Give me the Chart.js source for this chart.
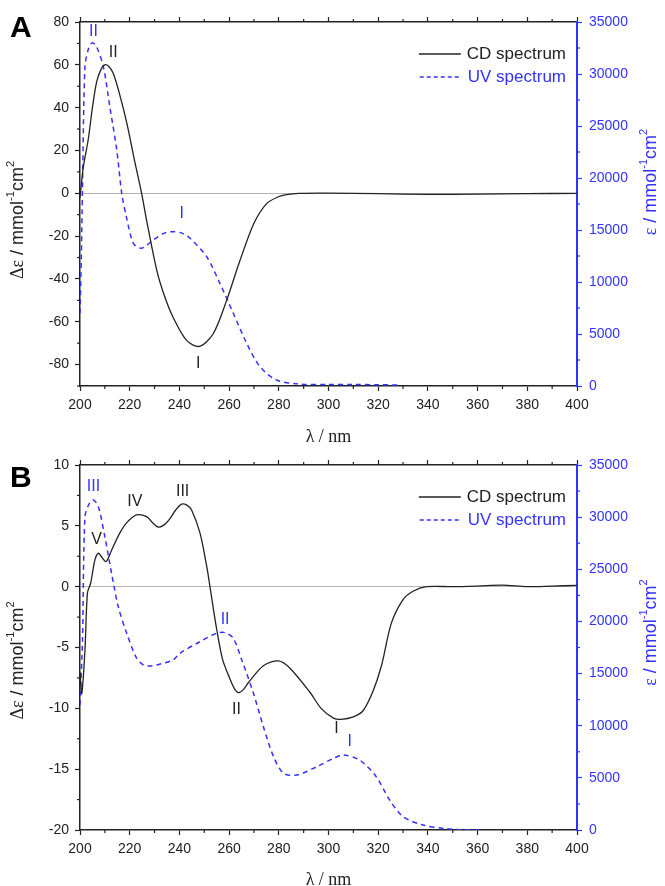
<!DOCTYPE html>
<html><head><meta charset="utf-8">
<script src="https://cdn.jsdelivr.net/npm/chart.js@4"></script>
<style>body{margin:0;background:#fff;width:665px;height:886px;overflow:hidden}canvas{display:block}</style>
</head><body>
<canvas id="ca" width="665" height="445"></canvas>
<canvas id="cb" width="665" height="441"></canvas>
<script>
// ---------- DATA ----------
const xTicks = [200,220,240,260,280,300,320,340,360,380,400];
// Panel A
const cdA_nm = [200,201.3,203.3,205,206.7,208.5,210,211.5,213.4,216,218.8,222,224.8,226.8,230.9,234,237.5,242.9,248,253.6,259,264.4,270,275.1,280,283.1,288,300,320,340,360,380,400];
const cdA_val = [-2,12,25,40,52,58,60,59.3,56,46,33,15,0,-12.6,-36,-48,-58,-68.7,-71.5,-65.6,-50,-31.3,-14,-4.8,-1.5,-0.6,0,0.1,-0.2,-0.5,-0.4,-0.2,0];
const uvA_nm = [200,200.5,201,202,203.5,205,206.7,209.4,212,214.8,216.8,218.8,221.5,224.8,229.5,234,237.5,241,244.3,251,256.3,261.7,267.1,272.4,279.1,288.5,300,310,320,328];
const uvA_val = [7000,12000,19000,30700,32500,33000,32600,30700,26850,22700,18530,16120,13720,13240,14040,14700,14840,14700,14200,12430,9870,6990,4100,1860,580,190,150,150,120,100];
const annA_cd_text = ['II','I'];
const annA_cd_nm = [213.4,247.6];
const annA_cd_val = [65.7,-79.6];
const annA_uv_text = ['II','I'];
const annA_uv_nm = [205.4,240.9];
const annA_uv_val = [34070,16600];
// Panel B
const cdB_nm = [200,200.7,202,203,204.3,206,207.4,208.5,210.5,212.7,216,219,222.8,226.8,229,231.5,234,236.2,238.5,240.9,243,244.9,248.3,251,252.3,255,257.4,260.4,262.5,264.1,266,267.7,273.8,279.8,284.5,292.6,297,302,305,310,313.9,317.9,321.3,325.3,330,334,339.4,350,360,370,380,390,400];
const cdB_val = [-7,-8.8,-5.2,-0.5,0.3,2.2,2.76,2.5,2.07,3.0,4.4,5.3,5.9,5.76,5.3,4.9,5.1,5.6,6.3,6.78,6.7,6.3,4.4,1.66,0,-3.5,-6.0,-7.6,-8.5,-8.7,-8.4,-7.9,-6.5,-6.1,-6.7,-8.7,-10,-10.8,-10.9,-10.7,-10.2,-8.6,-6.5,-3.0,-1.07,-0.38,0,0,0.05,0.12,0,0.05,0.1];
const uvB_nm = [200,201,202,203.8,205.4,207.4,210,212.7,215.4,218.8,222.8,225.5,228.2,232,237.4,240.2,248.3,255,258.4,261.7,265.1,269.8,273.8,277.9,281.9,287.3,295.3,302,305.8,312.5,319.2,324.6,330,338,346,353,362];
const uvB_val = [12000,18200,30050,31330,31650,31000,28130,24620,21410,18860,16470,15820,15730,15900,16300,16940,18060,18860,18920,18380,16300,13110,9900,7030,5440,5270,6070,6870,7190,6710,5110,2880,1280,480,160,30,0];
const annB_cd_text = ['V','IV','III','II','I'];
const annB_cd_nm = [206.7,222.1,241.3,263,303.2];
const annB_cd_val = [3.85,7.0,7.8,-10.1,-11.7];
const annB_uv_text = ['III','II','I'];
const annB_uv_nm = [205.4,258.4,308.5];
const annB_uv_val = [32920,20140,8470];

// ---------- STYLE ----------
const BLUE = '#3333ff';
const BLACK = '#222222';
const SANS = 'Liberation Sans, Arial, sans-serif';
const SERIF = 'Liberation Serif, Times New Roman, serif';

function pts(xs, ys){ return xs.map((x,i)=>({x:x,y:ys[i]})); }

const deco = {
  id:'deco',
  afterDraw(chart, args, o){
    const ctx = chart.ctx, ca = chart.chartArea, s = chart.scales;
    ctx.save();
    // minor ticks
    o.minor.forEach(m=>{
      const sc = s[m.id];
      ctx.strokeStyle = m.color; ctx.lineWidth = 1.2;
      for(let v=sc.min; v<=sc.max+1e-9; v+=m.step){
        const r = v/m.major;
        if(Math.abs(r-Math.round(r))<1e-6) continue;
        const p = sc.getPixelForValue(v);
        ctx.beginPath();
        if(sc.position==='bottom'){ctx.moveTo(p,ca.bottom);ctx.lineTo(p,ca.bottom+3);}
        else if(sc.position==='top'){ctx.moveTo(p,ca.top);ctx.lineTo(p,ca.top-3);}
        else if(sc.position==='left'){ctx.moveTo(ca.left,p);ctx.lineTo(ca.left-3,p);}
        else {ctx.moveTo(ca.right,p);ctx.lineTo(ca.right+3,p);}
        ctx.stroke();
      }
    });
    // annotations
    ctx.textAlign='center'; ctx.textBaseline='middle';
    ctx.font = '16px '+SANS;
    o.ann.forEach(a=>{
      ctx.fillStyle = a.color;
      a.text.forEach((t,i)=>{
        ctx.fillText(t, s.x.getPixelForValue(a.nm[i]), s[a.axis].getPixelForValue(a.val[i]));
      });
    });
    // legend
    ctx.textAlign='left'; ctx.textBaseline='middle';
    ctx.font = '17px '+SANS;
    const items = [{t:'CD spectrum',c:BLACK,dash:[],dy:32},{t:'UV spectrum',c:BLUE,dash:[4,3],dy:55}];
    items.forEach(it=>{
      const w = ctx.measureText(it.t).width;
      const tx = ca.right-11-w, y = ca.top+it.dy;
      ctx.fillStyle = it.c; ctx.fillText(it.t, tx, y);
      ctx.strokeStyle = it.c; ctx.lineWidth = 1.3; ctx.setLineDash(it.dash);
      ctx.beginPath(); ctx.moveTo(tx-48,y); ctx.lineTo(tx-6,y); ctx.stroke();
      ctx.setLineDash([]);
    });
    // axis titles
    function rich(parts, cx, cy, rot, color){
      ctx.save(); ctx.translate(cx,cy); ctx.rotate(rot);
      ctx.fillStyle=color; ctx.textAlign='left'; ctx.textBaseline='middle';
      let tot=0;
      parts.forEach(p=>{ctx.font=p.f; p.w=ctx.measureText(p.t).width; tot+=p.w;});
      let x=-tot/2;
      parts.forEach(p=>{ctx.font=p.f; ctx.fillText(p.t,x,p.sup?-7:0); x+=p.w;});
      ctx.restore();
    }
    const midY = (ca.top+ca.bottom)/2;
    rich([{t:'Δε',f:'18px '+SERIF},{t:' / mmol',f:'18px '+SANS},{t:'-1',f:'11px '+SANS,sup:true},{t:'cm',f:'18px '+SANS},{t:'2',f:'11px '+SANS,sup:true}], 18, midY+o.leftDy, -Math.PI/2, BLACK);
    rich([{t:'ε',f:'18px '+SERIF},{t:' / mmol',f:'18px '+SANS},{t:'-1',f:'11px '+SANS,sup:true},{t:'cm',f:'18px '+SANS},{t:'2',f:'11px '+SANS,sup:true}], 651, midY+o.rightDy, -Math.PI/2, BLUE);
    rich([{t:'λ / nm',f:'18px '+SERIF}], (ca.left+ca.right)/2, ca.bottom+o.xTitleDy, 0, BLACK);
    // panel letter
    ctx.fillStyle='#000'; ctx.font='bold 30px '+SANS; ctx.textAlign='left'; ctx.textBaseline='alphabetic';
    ctx.fillText(o.letter, 10, o.letterY);
    ctx.restore();
  }
};

function makeChart(id, cfg){
  const tickFont = {family:SANS, size:14};
  new Chart(document.getElementById(id), {
    type:'line',
    data:{datasets:[
      {label:'CD spectrum', data:pts(cfg.cdX,cfg.cdY), xAxisID:'x', yAxisID:'y', borderColor:BLACK, borderWidth:1.3, pointRadius:0, tension:0.3, fill:false},
      {label:'UV spectrum', data:pts(cfg.uvX,cfg.uvY), xAxisID:'x', yAxisID:'y2', borderColor:BLUE, borderWidth:1.5, borderDash:[5,4], pointRadius:0, tension:0.3, fill:false}
    ]},
    options:{
      responsive:false, animation:false, devicePixelRatio:1,
      layout:{padding:0},
      plugins:{legend:{display:false}, tooltip:{enabled:false},
        deco:{
          letter:cfg.letter, letterY:cfg.letterY, xTitleDy:cfg.xTitleDy, leftDy:cfg.leftDy, rightDy:cfg.rightDy,
          minor:[
            {id:'x',step:10,major:20,color:BLACK},{id:'x2',step:10,major:20,color:BLACK},
            {id:'y',step:cfg.yMinor,major:cfg.yStep,color:BLACK},{id:'y2',step:2500,major:5000,color:BLUE}
          ],
          ann:[{text:cfg.annCdT,nm:cfg.annCdX,val:cfg.annCdV,axis:'y',color:BLACK},{text:cfg.annUvT,nm:cfg.annUvX,val:cfg.annUvV,axis:'y2',color:BLUE}]
        }},
      scales:{
        x:{type:'linear', position:'bottom', min:xTicks[0], max:xTicks[xTicks.length-1],
          afterBuildTicks(s){ s.ticks = xTicks.map(v=>({value:v})); },
          ticks:{font:tickFont, color:BLACK, padding:6, maxRotation:0, autoSkip:false, callback:v=>String(v)},
          grid:{drawOnChartArea:false, tickLength:5, tickColor:BLACK, tickWidth:1.2},
          border:{color:BLACK, width:1.5},
          afterFit(s){ s.height = cfg.bottomH; }},
        x2:{type:'linear', position:'top', min:xTicks[0], max:xTicks[xTicks.length-1],
          afterBuildTicks(s){ s.ticks = xTicks.map(v=>({value:v})); },
          ticks:{display:false},
          grid:{drawOnChartArea:false, tickLength:5, tickColor:BLACK, tickWidth:1.2},
          border:{color:BLACK, width:1.5},
          afterFit(s){ s.height = cfg.topH; }},
        y:{type:'linear', position:'left', min:cfg.yMin, max:cfg.yMax,
          afterBuildTicks(s){ s.ticks = cfg.yTicks.map(v=>({value:v})); },
          ticks:{font:tickFont, color:BLACK, padding:6, callback:v=>String(v)},
          grid:{drawOnChartArea:true, color:c=>(c.tick && c.tick.value===0)?'#b4b4b4':'rgba(0,0,0,0)', lineWidth:1, tickLength:5, tickColor:BLACK, tickWidth:1.2},
          border:{color:BLACK, width:1.5},
          afterFit(s){ s.width = 80; }},
        y2:{type:'linear', position:'right', min:0, max:35000,
          afterBuildTicks(s){ s.ticks = cfg.y2Ticks.map(v=>({value:v})); },
          ticks:{font:tickFont, color:BLUE, padding:7, callback:v=>String(v)},
          grid:{drawOnChartArea:false, tickLength:5, tickColor:BLUE, tickWidth:1.2},
          border:{color:BLUE, width:2},
          afterFit(s){ s.width = 88; }}
      }
    },
    plugins:[deco]
  });
}

const rightTicks = [0,5000,10000,15000,20000,25000,30000,35000];
const leftTicksA = [-80,-60,-40,-20,0,20,40,60,80];
const leftTicksB = [-20,-15,-10,-5,0,5,10];

makeChart('ca', {cdX:cdA_nm, cdY:cdA_val, uvX:uvA_nm, uvY:uvA_val,
  yMin:-90, yMax:80, yTicks:leftTicksA, yStep:20, yMinor:10, y2Ticks:rightTicks,
  topH:22, bottomH:59, letter:'A', letterY:37, xTitleDy:51, leftDy:16, rightDy:-22,
  annCdT:annA_cd_text, annCdX:annA_cd_nm, annCdV:annA_cd_val,
  annUvT:annA_uv_text, annUvX:annA_uv_nm, annUvV:annA_uv_val});
makeChart('cb', {cdX:cdB_nm, cdY:cdB_val, uvX:uvB_nm, uvY:uvB_val,
  yMin:-20, yMax:10, yTicks:leftTicksB, yStep:5, yMinor:2.5, y2Ticks:rightTicks,
  topH:20, bottomH:56, letter:'B', letterY:42, xTitleDy:50, leftDy:13, rightDy:-15,
  annCdT:annB_cd_text, annCdX:annB_cd_nm, annCdV:annB_cd_val,
  annUvT:annB_uv_text, annUvX:annB_uv_nm, annUvV:annB_uv_val});
</script>
</body></html>
